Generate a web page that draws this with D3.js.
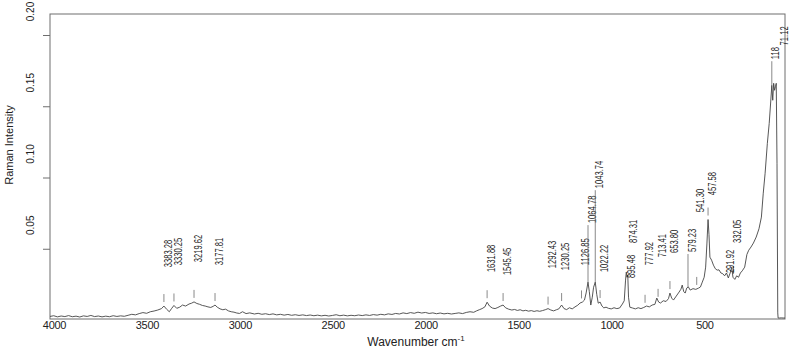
<!DOCTYPE html>
<html>
<head>
<meta charset="utf-8">
<script src="https://cdn.jsdelivr.net/npm/d3@7"></script>
<style>
  body { margin: 0; background: #fff; }
  svg { display: block; }
</style>
</head>
<body>
<div id="chart"></div>
<script>
// Raman spectrum, values

const wavenumber = [
  4000, 3980, 3960, 3940, 3920, 3900, 3880, 3860, 3840, 3820, 3800, 3780, 3760, 3740, 3720, 3700,
  3680, 3660, 3640, 3620, 3600, 3580, 3560, 3540, 3520, 3500, 3480, 3460, 3440, 3420, 3400, 3387,
  3372, 3358, 3345, 3333, 3318, 3302, 3287, 3270, 3252, 3238, 3225, 3210, 3195, 3180, 3165, 3150,
  3135, 3122, 3112, 3100, 3085, 3070, 3055, 3040, 3025, 3010, 2995, 2980, 2964, 2945, 2925, 2900,
  2880, 2860, 2840, 2820, 2800, 2780, 2760, 2740, 2720, 2700, 2680, 2660, 2640, 2620, 2600, 2580,
  2560, 2540, 2520, 2500, 2480, 2460, 2440, 2420, 2400, 2380, 2360, 2340, 2320, 2300, 2280, 2260,
  2240, 2220, 2200, 2180, 2160, 2140, 2120, 2100, 2080, 2060, 2040, 2020, 2000, 1980, 1960, 1940,
  1920, 1900, 1880, 1860, 1840, 1820, 1800, 1780, 1760, 1740, 1720, 1705, 1690, 1675, 1660, 1648,
  1635, 1620, 1605, 1590, 1575, 1562, 1548, 1532, 1515, 1500, 1485, 1470, 1455, 1440, 1425, 1410,
  1395, 1380, 1365, 1350, 1335, 1320, 1305, 1290, 1275, 1262, 1247, 1234, 1220, 1205, 1190, 1175,
  1160, 1148, 1135, 1124, 1115, 1105, 1098, 1090, 1082, 1075, 1066, 1058, 1050, 1040, 1030, 1020,
  1008, 995, 980, 965, 950, 935, 920, 910, 903, 899, 895, 891, 887, 880, 865, 850,
  835, 820, 805, 790, 775, 760, 745, 735, 725, 715, 700, 685, 672, 664, 655, 645,
  630, 615, 605, 598, 590, 582, 574, 565, 555, 540, 525, 510, 500, 490, 480, 472,
  465, 459, 454, 449, 440, 430, 420, 410, 400, 390, 380, 370, 360, 350, 340, 332,
  325, 315, 305, 295, 285, 275, 262, 250, 240, 228, 215, 200, 185, 172, 162, 152,
  140, 130, 122, 116, 111, 106, 101, 96, 92, 88, 84, 82, 75, 65, 55, 45
];

const intensity = [
  .0025, .0030, .0022, .0028, .0024, .0031, .0023, .0027, .0021, .0029, .0025, .0032, .0024, .0028, .0022, .0027,
  .0023, .0030, .0025, .0029, .0026, .0033, .0040, .0036, .0045, .0052, .0047, .0058, .0063, .0070, .0080, .0098,
  .0075, .0058, .0082, .0102, .0082, .0090, .0105, .0098, .0112, .0118, .0127, .0116, .0110, .0102, .0098, .0092,
  .0088, .0096, .0105, .0090, .0078, .0072, .0076, .0064, .0058, .0055, .0049, .0046, .0058, .0045, .0050, .0042,
  .0047, .0040, .0044, .0038, .0043, .0036, .0040, .0034, .0039, .0033, .0037, .0032, .0036, .0031, .0035, .0030,
  .0034, .0029, .0033, .0028, .0032, .0037, .0030, .0034, .0029, .0033, .0030, .0035, .0031, .0036, .0032, .0038,
  .0034, .0040, .0036, .0043, .0039, .0046, .0042, .0050, .0045, .0052, .0047, .0055, .0049, .0053, .0046, .0050,
  .0044, .0049, .0043, .0047, .0042, .0046, .0050, .0045, .0053, .0058, .0054, .0064, .0072, .0080, .0092, .0125,
  .0098, .0084, .0080, .0088, .0098, .0105, .0085, .0076, .0070, .0074, .0067, .0072, .0064, .0068, .0062, .0066,
  .0060, .0065, .0061, .0066, .0072, .0080, .0070, .0064, .0072, .0078, .0105, .0080, .0073, .0086, .0078, .0092,
  .0104, .0119, .0126, .0140, .0190, .0266, .0200, .0105, .0160, .0230, .0266, .0180, .0118, .0126, .0098, .0085,
  .0090, .0082, .0078, .0086, .0080, .0084, .0112, .0135, .0280, .0336, .0300, .0315, .0160, .0090, .0084, .0078,
  .0086, .0080, .0088, .0098, .0092, .0105, .0110, .0154, .0126, .0119, .0135, .0130, .0150, .0189, .0154, .0140,
  .0168, .0196, .0216, .0245, .0200, .0189, .0224, .0232, .0210, .0220, .0215, .0224, .0232, .0266, .0300, .0371,
  .0540, .0705, .0600, .0441, .0420, .0385, .0360, .0350, .0352, .0330, .0325, .0310, .0330, .0295, .0330, .0370,
  .0300, .0285, .0310, .0300, .0330, .0345, .0371, .0460, .0490, .0512, .0540, .0582, .0640, .0722, .0890, .1030,
  .1240, .1380, .1530, .1647, .1542, .1661, .1612, .1640, .1661, .1100, .0050, .0014, .0012, .0015, .0013, .0014
];

// labelled peaks: where the marker sits on the trace, and the printed value
const peakWn = [3387, 3333, 3225, 3112, 1648, 1562, 1320, 1247, 1140, 1105, 1066, 1040,
                895, 885, 798, 728, 664, 567, 520, 459, 322, 362, 116, 68];
const peakText = ["3383.28", "3330.25", "3219.62", "3177.81", "1631.88", "1545.45", "1292.43", "1230.25",
                  "1126.85", "1064.78", "1043.74", "1022.22", "895.48", "874.31", "777.92", "713.41",
                  "653.80", "579.23", "541.30", "457.58", "332.05", "291.92", "118", "71.12"];

const xTicks = [4000, 3500, 3000, 2500, 2000, 1500, 1000, 500];
const yTicks = [0.05, 0.10, 0.15, 0.20];

// label layout: height of the label foot (intensity units) and marker kind
const labelLevel = [0.0371, 0.0385, 0.0406, 0.0385, 0.0336, 0.0315, 0.0364, 0.0350,
                    0.0385, 0.0680, 0.0925, 0.0336, 0.0294, 0.0540, 0.0385, 0.0441,
                    0.0470, 0.0477, 0.0757, 0.0876, 0.0540, 0.0329, 0.1830, 0.1927];
const markKind = ["tick", "tick", "tick", "tick", "tick", "tick", "tick", "tick",
                  "tick", "lead", "lead", "tick", "none", "none", "tick", "tick",
                  "tick", "lead", "tick", "tick", "tick", "none", "lead", "none"];

const width = 793, height = 356;
const frame = { left: 50, right: 785, top: 14, bottom: 319 };

const svg = d3.select("#chart").append("svg")
  .attr("width", width)
  .attr("height", height)
  .style("font-family", "'Liberation Sans', Arial, sans-serif");

const x = d3.scaleLinear().domain([4000, 45]).range([frame.left, frame.right]);
const y = d3.scaleLinear().domain([0, 0.2]).range([320, 35]);

const points = wavenumber.map((w, i) => [w, intensity[i]]);

// value of the trace at a wavenumber (linear between samples)
function traceAt(w) {
  for (let i = 1; i < points.length; i++) {
    const a = points[i - 1], b = points[i];
    if (w <= a[0] && w >= b[0]) {
      const t = (a[0] - w) / (a[0] - b[0]);
      return a[1] + t * (b[1] - a[1]);
    }
  }
  return 0;
}

// frame
svg.append("rect")
  .attr("x", frame.left).attr("y", frame.top)
  .attr("width", frame.right - frame.left)
  .attr("height", frame.bottom - frame.top)
  .attr("fill", "none")
  .attr("stroke", "#6e6e6e")
  .attr("stroke-width", 1);

// spectrum
const line = d3.line().x(d => x(d[0])).y(d => Math.min(y(d[1]), frame.bottom - 1));
svg.append("path")
  .datum(points)
  .attr("d", line)
  .attr("fill", "none")
  .attr("stroke", "#444")
  .attr("stroke-width", 0.9);

// peak markers and labels
const peaks = peakWn.map((w, i) => ({ w, text: peakText[i], level: labelLevel[i], kind: markKind[i] }));

const pg = svg.append("g");
peaks.forEach(p => {
  const px = x(p.w);
  const py = y(traceAt(p.w));
  const foot = y(p.level);
  if (p.kind === "tick") {
    pg.append("line")
      .attr("x1", px).attr("x2", px)
      .attr("y1", py - 12).attr("y2", py - 4)
      .attr("stroke", "#8a8a8a").attr("stroke-width", 1);
  } else if (p.kind === "lead") {
    pg.append("line")
      .attr("x1", px).attr("x2", px)
      .attr("y1", foot + 2).attr("y2", py)
      .attr("stroke", "#6a6a6a").attr("stroke-width", 0.8);
  }
  pg.append("text")
    .attr("transform", `translate(${px + 4},${foot}) rotate(-90) scale(0.76,1)`)
    .attr("dy", "0.36em")
    .attr("text-anchor", "start")
    .style("font-size", "10px")
    .attr("fill", "#1a1a1a")
    .text(p.text);
});

// y axis: ticks at the values, labels printed a little above them
const yAxis = svg.append("g")
  .attr("transform", `translate(${frame.left},0)`)
  .call(d3.axisLeft(y).tickValues(yTicks).tickSize(7).tickFormat(""));
yAxis.select(".domain").remove();
yAxis.selectAll(".tick line").attr("stroke", "#6e6e6e");
yAxis.selectAll(".tick")
  .append("text")
  .attr("transform", "translate(-20,-24) rotate(-90)")
  .attr("dy", "0.35em")
  .attr("text-anchor", "middle")
  .attr("fill", "#222")
  .style("font-size", "10px")
  .text(d => d3.format(".2f")(d));

// x axis
const xAxis = svg.append("g")
  .attr("transform", `translate(0,${frame.bottom})`)
  .call(d3.axisBottom(x).tickValues(xTicks).tickSize(0).tickFormat(d3.format("d")));
xAxis.select(".domain").remove();
xAxis.selectAll(".tick text")
  .attr("y", 10).attr("dy", 0).attr("dx", 4)
  .attr("fill", "#222")
  .style("font-size", "11px")
  .style("letter-spacing", "-0.3px");

// axis titles
svg.append("text")
  .attr("transform", "translate(9,145) rotate(-90)")
  .attr("dy", "0.35em")
  .attr("text-anchor", "middle")
  .attr("fill", "#222")
  .style("font-size", "11px")
  .text("Raman Intensity");

const xt = svg.append("text")
  .attr("x", 416).attr("y", 346)
  .attr("text-anchor", "middle")
  .attr("fill", "#222")
  .style("font-size", "12px");
xt.append("tspan").text("Wavenumber cm");
xt.append("tspan").attr("dy", -5).style("font-size", "8px").text("-1");
</script>
</body>
</html>
